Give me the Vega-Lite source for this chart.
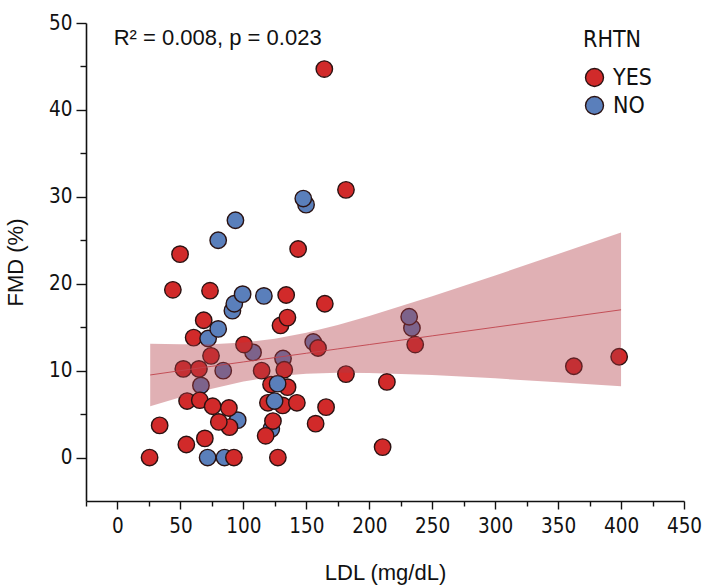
{
  "$schema": "https://vega.github.io/schema/vega-lite/v6.json",
  "width": 598,
  "height": 478,
  "autosize": "none",
  "padding": {"left": 86, "top": 23, "right": 22, "bottom": 86},
  "background": "white",
  "config": {
    "view": {"stroke": null},
    "axis": {
      "grid": false,
      "domainColor": "#111111",
      "domainWidth": 1.6,
      "tickColor": "#111111",
      "tickWidth": 1.4,
      "labelColor": "#111111",
      "titleColor": "#111111",
      "labelFont": "Liberation Sans Narrow, Arial Narrow, DejaVu Sans Condensed, sans-serif",
      "labelFontSize": 20.5,
      "titleFont": "Liberation Sans, Arial, sans-serif",
      "titleFontSize": 22,
      "titleFontWeight": "normal"
    }
  },
  "datasets": {
    "pts": [
      {"LDL": 71.6, "FMD": 0, "RHTN": "NO"},
      {"LDL": 85, "FMD": 0, "RHTN": "NO"},
      {"LDL": 95.5, "FMD": 4.3, "RHTN": "NO"},
      {"LDL": 66.3, "FMD": 8.3, "RHTN": "NO"},
      {"LDL": 84, "FMD": 10, "RHTN": "NO"},
      {"LDL": 91.3, "FMD": 16.9, "RHTN": "NO"},
      {"LDL": 92.8, "FMD": 17.7, "RHTN": "NO"},
      {"LDL": 99.4, "FMD": 18.8, "RHTN": "NO"},
      {"LDL": 116.3, "FMD": 18.6, "RHTN": "NO"},
      {"LDL": 80, "FMD": 25.0, "RHTN": "NO"},
      {"LDL": 93.7, "FMD": 27.3, "RHTN": "NO"},
      {"LDL": 149.8, "FMD": 29.1, "RHTN": "NO"},
      {"LDL": 147.6, "FMD": 29.8, "RHTN": "NO"},
      {"LDL": 107.7, "FMD": 12.1, "RHTN": "NO"},
      {"LDL": 131.5, "FMD": 11.4, "RHTN": "NO"},
      {"LDL": 155.5, "FMD": 13.3, "RHTN": "NO"},
      {"LDL": 122.2, "FMD": 3.3, "RHTN": "NO"},
      {"LDL": 233.9, "FMD": 14.9, "RHTN": "NO"},
      {"LDL": 231.7, "FMD": 16.2, "RHTN": "NO"},
      {"LDL": 25.5, "FMD": 0, "RHTN": "YES"},
      {"LDL": 33.5, "FMD": 3.7, "RHTN": "YES"},
      {"LDL": 54.7, "FMD": 1.5, "RHTN": "YES"},
      {"LDL": 69.4, "FMD": 2.2, "RHTN": "YES"},
      {"LDL": 49.7, "FMD": 23.4, "RHTN": "YES"},
      {"LDL": 44, "FMD": 19.3, "RHTN": "YES"},
      {"LDL": 73.5, "FMD": 19.2, "RHTN": "YES"},
      {"LDL": 68.5, "FMD": 15.8, "RHTN": "YES"},
      {"LDL": 60.5, "FMD": 13.8, "RHTN": "YES"},
      {"LDL": 74.3, "FMD": 11.7, "RHTN": "YES"},
      {"LDL": 52.3, "FMD": 10.2, "RHTN": "YES"},
      {"LDL": 64.7, "FMD": 10.2, "RHTN": "YES"},
      {"LDL": 55.3, "FMD": 6.5, "RHTN": "YES"},
      {"LDL": 65.4, "FMD": 6.6, "RHTN": "YES"},
      {"LDL": 75.6, "FMD": 5.9, "RHTN": "YES"},
      {"LDL": 88.5, "FMD": 5.7, "RHTN": "YES"},
      {"LDL": 89, "FMD": 3.5, "RHTN": "YES"},
      {"LDL": 80.5, "FMD": 4.1, "RHTN": "YES"},
      {"LDL": 92.5, "FMD": 0, "RHTN": "YES"},
      {"LDL": 100.5, "FMD": 13, "RHTN": "YES"},
      {"LDL": 114.5, "FMD": 10, "RHTN": "YES"},
      {"LDL": 117.7, "FMD": 2.5, "RHTN": "YES"},
      {"LDL": 119.5, "FMD": 6.3, "RHTN": "YES"},
      {"LDL": 122, "FMD": 8.4, "RHTN": "YES"},
      {"LDL": 123.5, "FMD": 4.2, "RHTN": "YES"},
      {"LDL": 127.4, "FMD": 0, "RHTN": "YES"},
      {"LDL": 131.2, "FMD": 6.0, "RHTN": "YES"},
      {"LDL": 135.1, "FMD": 8.1, "RHTN": "YES"},
      {"LDL": 132.5, "FMD": 10.1, "RHTN": "YES"},
      {"LDL": 129.5, "FMD": 15.2, "RHTN": "YES"},
      {"LDL": 135, "FMD": 16.1, "RHTN": "YES"},
      {"LDL": 134, "FMD": 18.7, "RHTN": "YES"},
      {"LDL": 142.5, "FMD": 6.3, "RHTN": "YES"},
      {"LDL": 143.5, "FMD": 24.0, "RHTN": "YES"},
      {"LDL": 157.4, "FMD": 3.9, "RHTN": "YES"},
      {"LDL": 159.3, "FMD": 12.6, "RHTN": "YES"},
      {"LDL": 164.7, "FMD": 17.7, "RHTN": "YES"},
      {"LDL": 165.7, "FMD": 5.8, "RHTN": "YES"},
      {"LDL": 164.3, "FMD": 44.7, "RHTN": "YES"},
      {"LDL": 181.5, "FMD": 30.8, "RHTN": "YES"},
      {"LDL": 181.5, "FMD": 9.6, "RHTN": "YES"},
      {"LDL": 214, "FMD": 8.7, "RHTN": "YES"},
      {"LDL": 210.6, "FMD": 1.2, "RHTN": "YES"},
      {"LDL": 236.5, "FMD": 13.0, "RHTN": "YES"},
      {"LDL": 362.5, "FMD": 10.5, "RHTN": "YES"},
      {"LDL": 398.5, "FMD": 11.6, "RHTN": "YES"},
      {"LDL": 72, "FMD": 13.7, "RHTN": "NO"},
      {"LDL": 80, "FMD": 14.8, "RHTN": "NO"},
      {"LDL": 124.8, "FMD": 6.5, "RHTN": "NO"},
      {"LDL": 127.2, "FMD": 8.5, "RHTN": "NO"}
    ],
    "fit": [
      {"LDL": 26, "fit": 9.5, "lo": 5.9, "hi": 13.1},
      {"LDL": 50, "fit": 10.0, "lo": 6.95, "hi": 13.03},
      {"LDL": 75, "fit": 10.5, "lo": 7.93, "hi": 13.05},
      {"LDL": 100, "fit": 11.0, "lo": 8.76, "hi": 13.24},
      {"LDL": 125, "fit": 11.5, "lo": 9.34, "hi": 13.66},
      {"LDL": 150, "fit": 12.0, "lo": 9.65, "hi": 14.35},
      {"LDL": 175, "fit": 12.5, "lo": 9.77, "hi": 15.25},
      {"LDL": 200, "fit": 13.0, "lo": 9.74, "hi": 16.28},
      {"LDL": 250, "fit": 14.0, "lo": 9.49, "hi": 18.55},
      {"LDL": 300, "fit": 15.0, "lo": 9.11, "hi": 20.95},
      {"LDL": 350, "fit": 16.0, "lo": 8.67, "hi": 23.41},
      {"LDL": 400, "fit": 17.0, "lo": 8.19, "hi": 25.89}
    ],
    "note": [
      {"label": "R² = 0.008, p = 0.023", "LDL": -3, "FMD": 48.3}
    ]
  },
  "encoding": {
    "x": {
      "field": "LDL", "type": "quantitative",
      "scale": {"domain": [-25, 450], "nice": false, "zero": false},
      "axis": {
        "title": "LDL (mg/dL)",
        "values": [-25, 0, 25, 50, 75, 100, 125, 150, 175, 200, 225, 250, 275, 300, 325, 350, 375, 400, 425, 450],
        "labelExpr": "datum.value % 50 === 0 ? datum.label : ''",
        "labelOverlap": false,
        "labelFlush": false,
        "tickSize": {"condition": {"test": "datum.value % 50 === 0", "value": 8}, "value": 5},
        "labelPadding": 7,
        "titlePadding": 26
      }
    }
  },
  "layer": [
    {
      "data": {"name": "pts"},
      "mark": {"type": "point", "filled": true, "size": 270, "opacity": 1, "stroke": "#2a1212", "strokeWidth": 1.4, "strokeOpacity": 1},
      "encoding": {
        "y": {
          "field": "FMD", "type": "quantitative",
          "scale": {"domain": [-5, 50], "nice": false, "zero": false},
          "axis": {
            "title": "FMD (%)",
            "values": [0, 5, 10, 15, 20, 25, 30, 35, 40, 45, 50],
            "labelExpr": "datum.value % 10 === 0 ? datum.label : ''",
            "labelOverlap": false,
            "tickSize": {"condition": {"test": "datum.value % 10 === 0", "value": 10}, "value": 6},
            "labelPadding": 4,
            "titlePadding": 21
          }
        },
        "color": {
          "field": "RHTN", "type": "nominal",
          "scale": {"domain": ["YES", "NO"], "range": ["#d12a2a", "#5a7fbb"]},
          "legend": {
            "title": "RHTN",
            "orient": "none",
            "legendX": 497,
            "legendY": 6,
            "titleFont": "Liberation Sans Narrow, Arial Narrow, DejaVu Sans Condensed, sans-serif",
            "titleFontSize": 23,
            "titleFontWeight": "normal",
            "titleColor": "#111111",
            "titlePadding": 14,
            "labelFont": "Liberation Sans Narrow, Arial Narrow, DejaVu Sans Condensed, sans-serif",
            "labelFontSize": 23,
            "labelColor": "#111111",
            "labelOffset": 7,
            "symbolSize": 324,
            "symbolType": "circle",
            "symbolStrokeColor": "#2a1212",
            "symbolStrokeWidth": 1.4,
            "symbolOpacity": 1,
            "rowPadding": 3
          }
        }
      }
    },
    {
      "data": {"name": "fit"},
      "mark": {"type": "area", "color": "#b23a44", "opacity": 0.4},
      "encoding": {
        "y": {"field": "lo", "type": "quantitative"},
        "y2": {"field": "hi"}
      }
    },
    {
      "data": {"name": "fit"},
      "mark": {"type": "line", "color": "#c0444c", "strokeWidth": 1, "opacity": 0.9},
      "encoding": {
        "y": {"field": "fit", "type": "quantitative"}
      }
    },
    {
      "data": {"name": "note"},
      "mark": {"type": "text", "align": "left", "baseline": "middle", "font": "Liberation Sans, Arial, sans-serif", "fontSize": 22, "color": "#111111"},
      "encoding": {
        "y": {"field": "FMD", "type": "quantitative"},
        "text": {"field": "label", "type": "nominal"}
      }
    }
  ]
}
